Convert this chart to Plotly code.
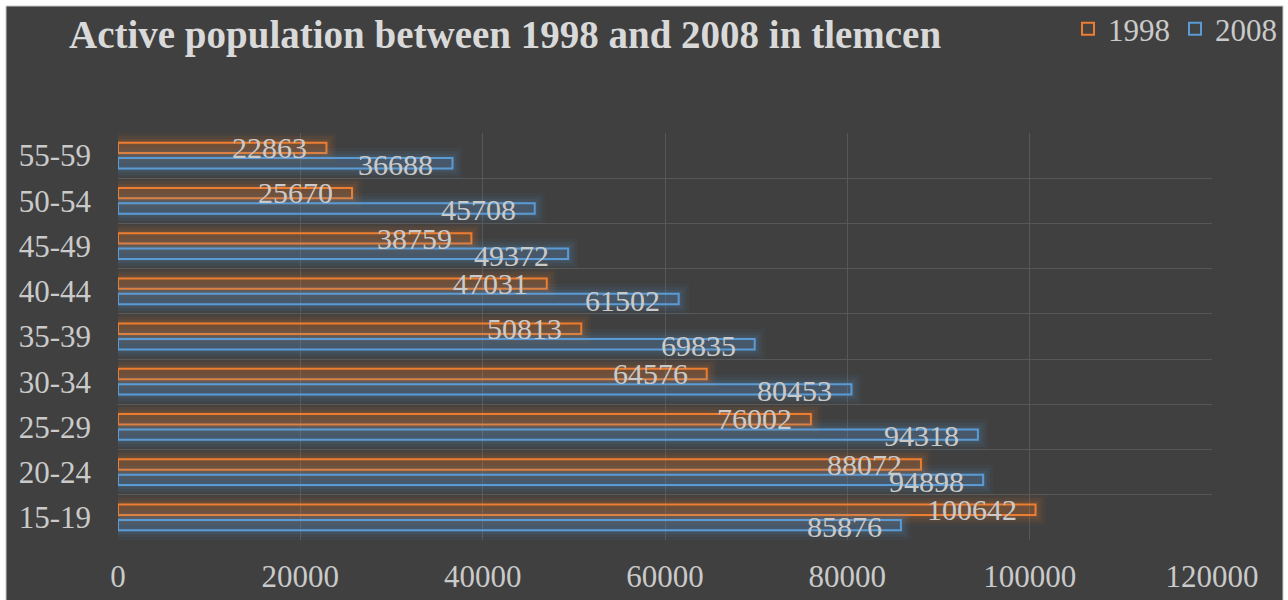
import plotly.graph_objects as go

# Active population by age group, Tlemcen
age_groups = ["15-19", "20-24", "25-29", "30-34", "35-39", "40-44", "45-49", "50-54", "55-59"]
pop_1998 = [100642, 88072, 76002, 64576, 50813, 47031, 38759, 25670, 22863]
pop_2008 = [85876, 94898, 94318, 80453, 69835, 61502, 49372, 45708, 36688]
x_ticks = [0, 20000, 40000, 60000, 80000, 100000, 120000]

W, H = 1288, 600
M_L, M_R, M_T, M_B = 118, 76, 133, 60
plot_w = W - M_L - M_R
plot_h = H - M_T - M_B
x_max = 120000
units_per_px = x_max / plot_w
cat_px = plot_h / len(age_groups)

FONT = "Liberation Serif, Times New Roman, serif"
TXT = "#cacaca"
BG = "#404040"
GRID = "#575757"

bar_w = 0.23
series = [
    ("1998", pop_1998, (237, 125, 49), 0.055, 8),
    ("2008", pop_2008, (91, 155, 213), -0.285, -9),
]

fig = go.Figure()
annotations = []
for name, vals, (r, g, b), off, lab_shift in series:
    # soft glow around each bar
    for grow_px, alpha in [(10, 0.05), (7, 0.07), (4, 0.09), (2, 0.08)]:
        gu = grow_px / cat_px
        fig.add_trace(go.Bar(
            y=age_groups, x=[v + grow_px * units_per_px for v in vals],
            orientation="h", offset=off - gu, width=bar_w + 2 * gu,
            marker=dict(color=f"rgba({r},{g},{b},{alpha})", line_width=0),
            showlegend=False, hoverinfo="skip",
        ))
    fig.add_trace(go.Bar(
        name=name, y=age_groups, x=vals, orientation="h",
        offset=off, width=bar_w,
        marker=dict(color=f"rgba({r},{g},{b},0.04)",
                    line=dict(color=f"rgb({r},{g},{b})", width=2)),
    ))
    for cat, v in zip(age_groups, vals):
        annotations.append(dict(
            x=v, y=cat, xref="x", yref="y", text=str(v), showarrow=False,
            xanchor="right", yanchor="middle", xshift=-17, yshift=lab_shift,
            font=dict(family=FONT, size=30, color=TXT),
        ))

# chart title
annotations.append(dict(
    x=(67 - M_L) / plot_w, y=(M_T + plot_h - 35) / plot_h,
    xref="paper", yref="paper", xanchor="left", yanchor="middle",
    text="<b>Active population between 1998 and 2008 in tlemcen</b>",
    showarrow=False, font=dict(family=FONT, size=39, color="#d9d9d9"),
))

# dark chart background panel
shapes = [dict(
    type="rect", xref="paper", yref="paper", layer="below",
    x0=(6 - M_L) / plot_w, x1=(1283 - M_L) / plot_w,
    y0=-0.2, y1=(M_T + plot_h - 6) / plot_h,
    fillcolor=BG, line=dict(color="#c8c8c8", width=1),
)]

fig.update_layout(
    width=W, height=H,
    margin=dict(l=M_L, r=M_R, t=M_T, b=M_B, pad=0, autoexpand=False),
    paper_bgcolor="white", plot_bgcolor="rgba(0,0,0,0)",
    barmode="overlay",
    annotations=annotations, shapes=shapes,
    showlegend=True,
    legend=dict(
        orientation="h", x=(1068 - M_L) / plot_w, xanchor="left",
        y=(M_T + plot_h - 29) / plot_h, yanchor="middle",
        font=dict(family=FONT, size=31, color=TXT),
        bgcolor="rgba(0,0,0,0)", traceorder="normal",
        itemwidth=30,
    ),
    xaxis=dict(
        range=[0, x_max], tickvals=x_ticks, ticktext=[str(t) for t in x_ticks],
        showgrid=True, gridcolor=GRID, gridwidth=1, zeroline=False,
        showline=False, ticks="", ticklabelstandoff=15,
        tickfont=dict(family=FONT, size=31, color=TXT),
    ),
    yaxis=dict(
        type="category", categoryorder="array", categoryarray=age_groups,
        range=[-0.5, len(age_groups) - 0.5],
        tickson="boundaries", showgrid=True, gridcolor=GRID, gridwidth=1,
        zeroline=False, showline=False, ticks="", ticklabelstandoff=26,
        tickfont=dict(family=FONT, size=31, color=TXT),
    ),
)

fig.write_html("out.html")
